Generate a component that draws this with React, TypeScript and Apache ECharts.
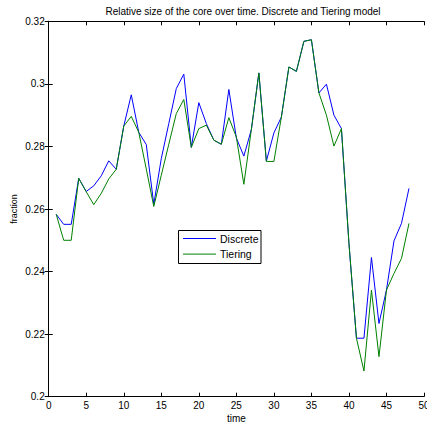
import React, { useEffect, useRef } from "react";
import * as echarts from "echarts";

// time steps 1..48
const times = Array.from({ length: 48 }, (_, i) => i + 1);

const discrete = [
	0.2583, 0.2551, 0.2551, 0.2698, 0.2656, 0.2674, 0.2706, 0.2754, 0.2727, 0.2865,
	0.2965, 0.2845, 0.2806, 0.2615, 0.2761, 0.2873, 0.2985, 0.3031, 0.2797, 0.294,
	0.2873, 0.282, 0.2807, 0.2982, 0.2827, 0.2769, 0.2854, 0.3035, 0.2753, 0.2843,
	0.2894, 0.3054, 0.304, 0.3136, 0.3141, 0.2971, 0.2999, 0.29, 0.2857, 0.249,
	0.2187, 0.2187, 0.2445, 0.2234, 0.2341, 0.2498, 0.2554, 0.2666,
];

const tiering = [
	0.2583, 0.25, 0.25, 0.2698, 0.2655, 0.2614, 0.265, 0.2696, 0.2727, 0.2865,
	0.2896, 0.2845, 0.2728, 0.2608, 0.2708, 0.2807, 0.2905, 0.295, 0.2797, 0.2857,
	0.2868, 0.282, 0.2807, 0.2892, 0.283, 0.2679, 0.2854, 0.3035, 0.2752, 0.2752,
	0.2894, 0.3054, 0.304, 0.3136, 0.3141, 0.2971, 0.29, 0.2801, 0.2857, 0.249,
	0.2187, 0.2082, 0.2341, 0.2128, 0.2341, 0.2394, 0.2442, 0.2554,
];

const seriesNames = ["Discrete", "Tiering"];
const seriesColors = ["#0000ff", "#008000"];

const font = "Liberation Sans";

const App = () => {
	const chartRef = useRef<HTMLDivElement>(null);

	useEffect(() => {
		if (!chartRef.current) return;
		const chart = echarts.init(chartRef.current, null, { renderer: "svg" });

		const boxAxis = {
			axisLine: { show: true, lineStyle: { color: "#000", width: 1 } },
			axisTick: { show: true, inside: true, length: 4, lineStyle: { color: "#000" } },
			axisLabel: { show: false },
			splitLine: { show: false },
		};

		// legend box drawn by hand, MATLAB style (line sample + name)
		const legendElems: any[] = [
			{
				type: "rect",
				shape: { x: 178.5, y: 230.5, width: 82.5, height: 33 },
				style: { fill: "#fff", stroke: "#000", lineWidth: 1 },
				z: 100,
			},
		];
		seriesNames.forEach((name, k) => {
			const y = 238.5 + k * 15.6;
			legendElems.push({
				type: "line",
				shape: { x1: 183, y1: y, x2: 216, y2: y },
				style: { stroke: seriesColors[k], lineWidth: 1 },
				z: 101,
			});
			legendElems.push({
				type: "text",
				x: 220,
				y: y,
				style: { text: name, font: `10.5px "${font}"`, fill: "#000", textVerticalAlign: "middle", verticalAlign: "middle" },
				z: 101,
			});
		});

		chart.setOption({
			animation: false,
			title: {
				text: "Relative size of the core over time. Discrete and Tiering model",
				left: 238,
				textAlign: "center",
				top: 1,
				textStyle: { fontFamily: font, fontSize: 10, fontWeight: "normal", color: "#000" },
			},
			graphic: legendElems,
			grid: { left: 48.7, right: 3, top: 21.3, bottom: 28.3, outerBoundsMode: "none" },
			xAxis: [
				{
					type: "value",
					min: 0,
					max: 50,
					interval: 5,
					name: "time",
					nameLocation: "middle",
					nameGap: 17,
					nameMoveOverlap: false,
					nameTextStyle: { fontFamily: font, fontSize: 10, color: "#000" },
					axisLine: { show: true, lineStyle: { color: "#000", width: 1 } },
					axisTick: { show: true, inside: true, length: 4, lineStyle: { color: "#000" } },
					axisLabel: { fontFamily: font, fontSize: 10, color: "#000", margin: 4 },
					splitLine: { show: false },
				},
				{ type: "value", position: "top", min: 0, max: 50, interval: 5, ...boxAxis },
			],
			yAxis: [
				{
					type: "value",
					min: 0.2,
					max: 0.32,
					interval: 0.02,
					name: "fraction",
					nameLocation: "middle",
					nameGap: 30,
					nameMoveOverlap: false,
					nameTextStyle: { fontFamily: font, fontSize: 9, color: "#000" },
					axisLine: { show: true, lineStyle: { color: "#000", width: 1 } },
					axisTick: { show: true, inside: true, length: 4, lineStyle: { color: "#000" } },
					axisLabel: {
						fontFamily: font,
						fontSize: 10,
						color: "#000",
						margin: 4,
						formatter: (v: number) => String(parseFloat(v.toFixed(2))),
					},
					splitLine: { show: false },
				},
				{ type: "value", position: "right", min: 0.2, max: 0.32, interval: 0.02, ...boxAxis },
			],
			series: [discrete, tiering].map((vals, k) => ({
				name: seriesNames[k],
				type: "line",
				data: times.map((t, i) => [t, vals[i]]),
				symbol: "none",
				lineStyle: { color: seriesColors[k], width: 1 },
				itemStyle: { color: seriesColors[k] },
			})),
		});

		return () => {
			chart.dispose();
		};
	}, []);

	return (
		<div
			ref={chartRef}
			style={{ position: "fixed", left: 0, top: 0, width: "427px", height: "425px", background: "#fff" }}
		/>
	);
};

export default App;
